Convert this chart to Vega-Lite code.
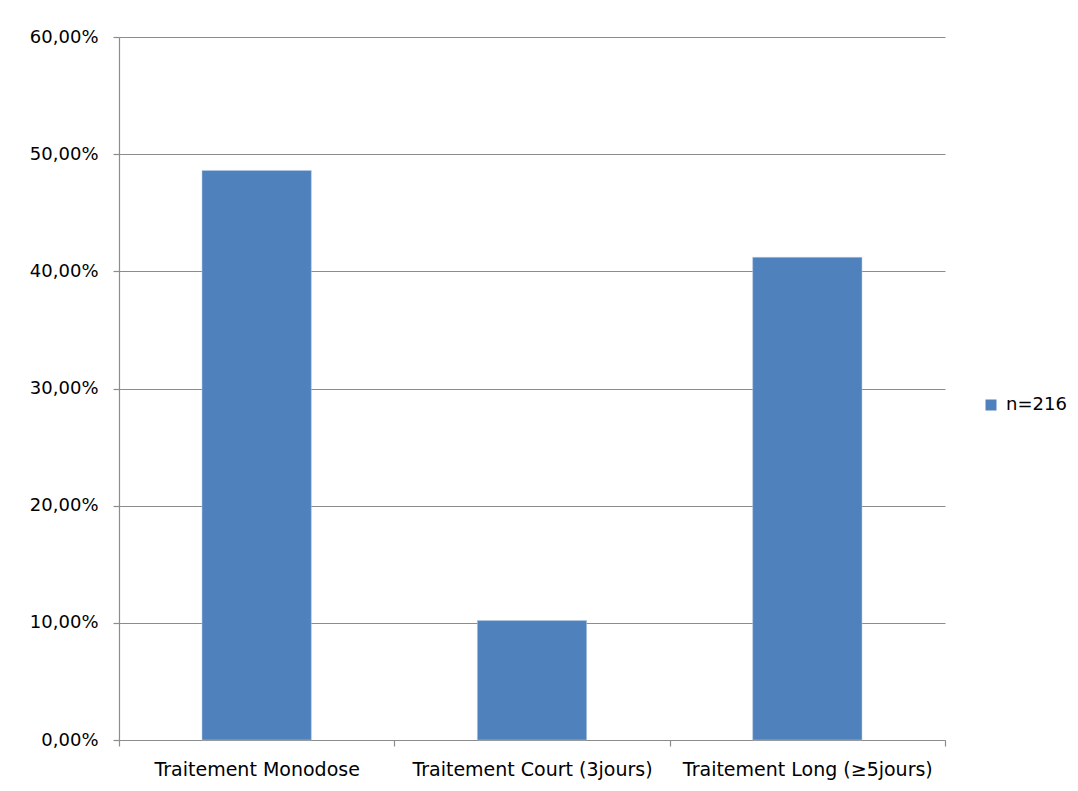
{
  "$schema": "https://vega.github.io/schema/vega-lite/v6.json",
  "width": 826,
  "height": 703,
  "autosize": "none",
  "padding": {"left": 119, "top": 37, "right": 133, "bottom": 51},
  "background": "white",
  "data": {
    "values": [
      {"traitement": "Traitement Monodose", "part": 0.4861, "serie": "n=216"},
      {"traitement": "Traitement Court (3jours)", "part": 0.1019, "serie": "n=216"},
      {"traitement": "Traitement Long (≥5jours)", "part": 0.4120, "serie": "n=216"}
    ]
  },
  "mark": {"type": "bar", "width": {"band": 0.397}, "stroke": "#b8cce4", "strokeWidth": 0.5},
  "encoding": {
    "x": {
      "field": "traitement",
      "type": "nominal",
      "sort": null,
      "scale": {"paddingInner": 0, "paddingOuter": 0},
      "axis": {
        "title": null,
        "labelAngle": 0,
        "labelLimit": 0,
        "tickBand": "extent",
        "grid": false,
        "domainColor": "#8c8c8c",
        "tickColor": "#8c8c8c",
        "tickSize": 6,
        "labelPadding": 14,
        "labelFont": "DejaVu Sans",
        "labelFontSize": 19,
        "labelColor": "#000000"
      }
    },
    "y": {
      "field": "part",
      "type": "quantitative",
      "scale": {"domain": [0, 0.6], "nice": false},
      "axis": {
        "title": null,
        "values": [0, 0.1, 0.2, 0.3, 0.4, 0.5, 0.6],
        "labelExpr": "replace(format(datum.value, '.2%'), '.', ',')",
        "grid": true,
        "gridColor": "#8c8c8c",
        "gridWidth": 1.2,
        "domainColor": "#8c8c8c",
        "tickColor": "#8c8c8c",
        "tickSize": 6,
        "labelPadding": 15,
        "labelFont": "DejaVu Sans",
        "labelFontSize": 18,
        "labelColor": "#000000"
      }
    },
    "color": {
      "field": "serie",
      "type": "nominal",
      "scale": {"range": ["#4f81bd"]},
      "legend": {
        "title": null,
        "orient": "none",
        "legendX": 863,
        "legendY": 359,
        "symbolType": "square",
        "symbolSize": 121,
        "symbolStrokeWidth": 0,
        "labelFont": "DejaVu Sans",
        "labelFontSize": 18,
        "labelColor": "#000000",
        "labelOffset": 6
      }
    }
  },
  "config": {
    "view": {"stroke": null},
    "axis": {"domainWidth": 1.2, "tickWidth": 1.2}
  }
}
